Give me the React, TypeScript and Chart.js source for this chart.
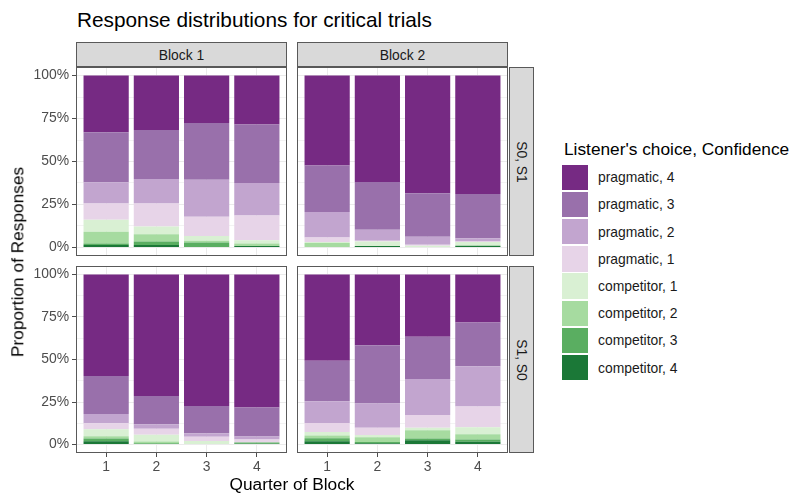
import React, { useEffect, useRef } from "react";
import { Chart, registerables } from "chart.js";

Chart.register(...registerables);

// ---------- data ----------
const quarters = [1, 2, 3, 4];
const quarterLabels = ["1", "2", "3", "4"];
const blocks = ["Block 1", "Block 2"];
const speakerOrders = ["S0, S1", "S1, S0"];
// stacking order, bottom -> top
const levels = [
  "competitor, 4",
  "competitor, 3",
  "competitor, 2",
  "competitor, 1",
  "pragmatic, 1",
  "pragmatic, 2",
  "pragmatic, 3",
  "pragmatic, 4",
];
const levelColors = ["#1B7837", "#5AAE61", "#A6DBA0", "#D9F0D3", "#E7D4E8", "#C2A5CF", "#9970AB", "#762A83"];
const yTickValues = [0, 12.5, 25, 37.5, 50, 62.5, 75, 87.5, 100];
const yMajorTicks = [0, 25, 50, 75, 100];

// rows follow `levels`, columns follow `quarters` (percent of responses)
const s0s1Block1 = [
  [1.4, 1.4, 0, 0.8],
  [0.9, 2.1, 2.9, 0],
  [6.8, 4.1, 1.0, 1.5],
  [7.0, 4.6, 2.7, 1.8],
  [9.5, 13.4, 11.3, 14.5],
  [12.3, 14.2, 21.5, 18.9],
  [29.1, 28.5, 33.0, 34.0],
  [33.0, 31.7, 27.6, 28.5],
];
const s0s1Block2 = [
  [0, 0.8, 0, 1.0],
  [0, 0, 0, 0],
  [2.5, 0, 0, 0],
  [0.6, 2.7, 1.0, 2.1],
  [2.7, 0.4, 0.6, 0.4],
  [14.8, 6.4, 4.6, 1.9],
  [27.0, 27.8, 25.3, 25.7],
  [52.4, 61.9, 68.5, 68.9],
];
const s1s0Block1 = [
  [1.9, 0, 0, 0.4],
  [1.6, 0.8, 0, 0.8],
  [1.4, 1.0, 0, 0],
  [4.0, 4.0, 2.1, 0],
  [3.6, 3.5, 2.4, 1.7],
  [5.4, 2.6, 2.1, 1.8],
  [22.4, 16.7, 16.0, 17.1],
  [59.7, 71.4, 77.4, 78.2],
];
const s1s0Block2 = [
  [1.9, 0.8, 2.5, 1.6],
  [1.8, 0.6, 1.0, 1.3],
  [1.6, 2.9, 4.9, 3.1],
  [2.1, 1.3, 1.5, 4.1],
  [5.2, 4.3, 7.4, 12.3],
  [12.9, 14.2, 21.2, 23.7],
  [23.7, 34.3, 24.9, 25.7],
  [50.8, 41.6, 36.6, 28.2],
];

const FONT = "'Liberation Sans', Arial, Helvetica, sans-serif";
const TICK_SIZE = 13.9;
const STRIP_SIZE = 13.9;
const AXIS_TITLE_SIZE = 17.3;
const PLOT_TITLE_SIZE = 20.8;
const LEGEND_TEXT_SIZE = 13.9;

// ---------- layout ----------
const COLS = [
  { left: 76, width: 211 },
  { left: 297, width: 211 },
];
const ROWS = [
  { top: 67, height: 189 },
  { top: 266, height: 187 },
];
const Y_AXIS_W = 76;
const X_AXIS_H = 24;

type PanelProps = {
  values: number[][];
  col: number;
  row: number;
};

function Panel({ values, col, row }: PanelProps) {
  const ref = useRef<HTMLCanvasElement | null>(null);
  const showY = col === 0;
  const showX = row === 1;
  const c = COLS[col];
  const r = ROWS[row];
  const yW = showY ? Y_AXIS_W : 0;
  const xH = showX ? X_AXIS_H : 0;
  const cw = c.width + yW;
  const ch = r.height + xH;

  useEffect(() => {
    if (!ref.current) return;
    const chart = new Chart(ref.current, {
      type: "bar",
      data: {
        datasets: levels.map((lv, li) => ({
          label: lv,
          data: quarters.map((q, qi) => ({ x: q, y: values[li][qi] })),
          backgroundColor: levelColors[li],
          borderWidth: 0,
          barPercentage: 0.9,
          categoryPercentage: 1,
        })),
      },
      options: {
        animation: false,
        responsive: false,
        devicePixelRatio: 1,
        events: [],
        layout: { padding: 0 },
        plugins: {
          legend: { display: false },
          tooltip: { enabled: false },
          title: { display: false },
        },
        scales: {
          x: {
            type: "linear",
            stacked: true,
            offset: false,
            min: 0.4,
            max: 4.6,
            afterBuildTicks: (s: any) => {
              s.ticks = quarters.map((v) => ({ value: v }));
            },
            afterFit: (s: any) => {
              s.height = xH;
              s.paddingLeft = 0;
              s.paddingRight = 0;
            },
            border: { display: false },
            grid: {
              offset: false,
              color: "#EBEBEB",
              lineWidth: 1,
              drawTicks: showX,
              tickLength: 4,
              tickColor: "#4D4D4D",
            },
            ticks: {
              display: showX,
              autoSkip: false,
              maxRotation: 0,
              padding: 2,
              color: "#4D4D4D",
              font: { family: FONT, size: TICK_SIZE },
              callback: (v: any) => {
                const i = quarters.indexOf(Number(v));
                return i >= 0 ? quarterLabels[i] : "";
              },
            },
          },
          y: {
            type: "linear",
            stacked: true,
            min: -5,
            max: 105,
            afterBuildTicks: (s: any) => {
              s.ticks = yTickValues.map((v) => ({ value: v }));
            },
            afterFit: (s: any) => {
              s.width = yW;
              s.paddingTop = 0;
              s.paddingBottom = 0;
            },
            border: { display: false },
            grid: {
              color: (ctx: any) =>
                ctx.tick && yMajorTicks.includes(ctx.tick.value) ? "#EBEBEB" : "#F3F3F3",
              lineWidth: 1,
              drawTicks: showY,
              tickLength: 4,
              tickColor: (ctx: any) =>
                ctx.tick && yMajorTicks.includes(ctx.tick.value) ? "#4D4D4D" : "rgba(0,0,0,0)",
            },
            ticks: {
              display: showY,
              autoSkip: false,
              padding: 3,
              color: "#4D4D4D",
              font: { family: FONT, size: TICK_SIZE },
              callback: (v: any) => (yMajorTicks.includes(Number(v)) ? `${v}%` : ""),
            },
          },
        },
      } as any,
    });
    return () => chart.destroy();
  }, [values, xH, yW, showX, showY]);

  return (
    <>
      <canvas
        ref={ref}
        width={cw}
        height={ch}
        style={{ position: "absolute", left: c.left - yW, top: r.top, width: cw, height: ch }}
      />
      <div
        style={{
          position: "absolute",
          left: c.left,
          top: r.top,
          width: c.width,
          height: r.height,
          border: "1px solid #595959",
          boxSizing: "border-box",
          pointerEvents: "none",
        }}
      />
    </>
  );
}

export default function App() {
  const panels = [
    { values: s0s1Block1, col: 0, row: 0 },
    { values: s0s1Block2, col: 1, row: 0 },
    { values: s1s0Block1, col: 0, row: 1 },
    { values: s1s0Block2, col: 1, row: 1 },
  ];
  const legendRows = levels.map((lv, i) => ({ label: lv, color: levelColors[i] })).reverse();

  return (
    <div
      style={{
        position: "fixed",
        left: 0,
        top: 0,
        width: 793,
        height: 494,
        background: "#FFFFFF",
        fontFamily: FONT,
        overflow: "hidden",
      }}
    >
      {/* title */}
      <div
        style={{
          position: "absolute",
          left: 77,
          top: 9.7,
          fontSize: PLOT_TITLE_SIZE,
          lineHeight: `${PLOT_TITLE_SIZE}px`,
          color: "#000",
          whiteSpace: "nowrap",
        }}
      >
        Response distributions for critical trials
      </div>

      {/* top strips */}
      {blocks.map((b, i) => (
        <div
          key={b}
          style={{
            position: "absolute",
            left: COLS[i].left,
            top: 42,
            width: COLS[i].width,
            height: 25,
            background: "#D9D9D9",
            border: "1px solid #595959",
            boxSizing: "border-box",
            display: "flex",
            alignItems: "center",
            justifyContent: "center",
            fontSize: STRIP_SIZE,
            color: "#1A1A1A",
          }}
        >
          {b}
        </div>
      ))}

      {/* right strips */}
      {speakerOrders.map((s, i) => (
        <div
          key={s}
          style={{
            position: "absolute",
            left: 509,
            top: ROWS[i].top,
            width: 25,
            height: ROWS[i].height,
            background: "#D9D9D9",
            border: "1px solid #595959",
            boxSizing: "border-box",
            display: "flex",
            alignItems: "center",
            justifyContent: "center",
            fontSize: STRIP_SIZE,
            color: "#1A1A1A",
          }}
        >
          <span style={{ transform: "rotate(90deg)", whiteSpace: "nowrap", display: "inline-block" }}>{s}</span>
        </div>
      ))}

      {panels.map((p, i) => (
        <Panel key={i} values={p.values} col={p.col} row={p.row} />
      ))}

      {/* y axis title */}
      <div
        style={{
          position: "absolute",
          left: 18,
          top: 262,
          transform: "translate(-50%, -50%) rotate(-90deg)",
          fontSize: AXIS_TITLE_SIZE,
          lineHeight: `${AXIS_TITLE_SIZE}px`,
          whiteSpace: "nowrap",
          color: "#000",
        }}
      >
        Proportion of Responses
      </div>

      {/* x axis title */}
      <div
        style={{
          position: "absolute",
          left: 292,
          top: 476,
          transform: "translateX(-50%)",
          fontSize: AXIS_TITLE_SIZE,
          lineHeight: `${AXIS_TITLE_SIZE}px`,
          whiteSpace: "nowrap",
          color: "#000",
        }}
      >
        Quarter of Block
      </div>

      {/* legend */}
      <div
        style={{
          position: "absolute",
          left: 564,
          top: 141,
          fontSize: AXIS_TITLE_SIZE,
          lineHeight: `${AXIS_TITLE_SIZE}px`,
          whiteSpace: "nowrap",
          color: "#000",
        }}
      >
        Listener's choice, Confidence
      </div>
      {legendRows.map((r, i) => (
        <React.Fragment key={r.label}>
          <div
            style={{
              position: "absolute",
              left: 562,
              top: 164.5 + i * 27.2,
              width: 26,
              height: 25.6,
              background: r.color,
            }}
          />
          <div
            style={{
              position: "absolute",
              left: 598,
              top: 164.5 + i * 27.2,
              height: 25.6,
              display: "flex",
              alignItems: "center",
              fontSize: LEGEND_TEXT_SIZE,
              color: "#1A1A1A",
              whiteSpace: "nowrap",
            }}
          >
            {r.label}
          </div>
        </React.Fragment>
      ))}
    </div>
  );
}
